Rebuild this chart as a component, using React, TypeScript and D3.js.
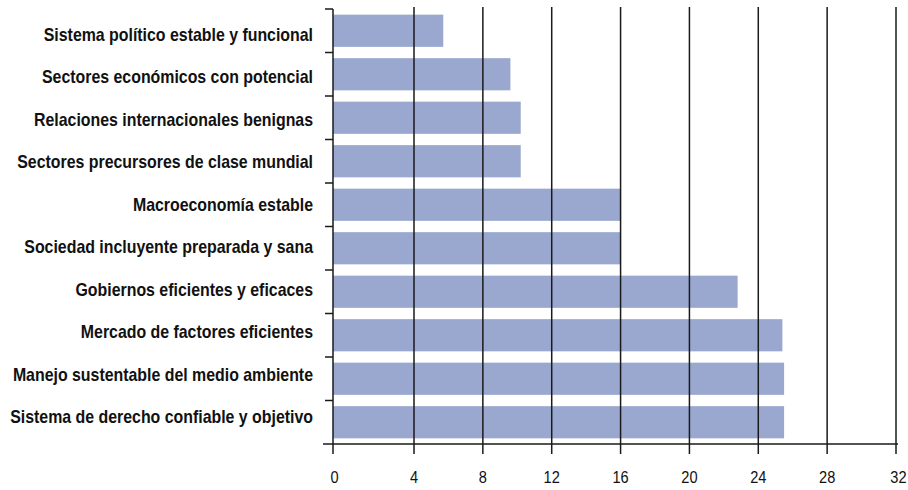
import React, { useLayoutEffect, useRef, useState } from "react";
import * as d3 from "d3";

const categories = [
  "Sistema político estable y funcional",
  "Sectores económicos con potencial",
  "Relaciones internacionales benignas",
  "Sectores precursores de clase mundial",
  "Macroeconomía estable",
  "Sociedad incluyente preparada y sana",
  "Gobiernos eficientes y eficaces",
  "Mercado de factores eficientes",
  "Manejo sustentable del medio ambiente",
  "Sistema de derecho confiable y objetivo",
];
const values = [5.7, 9.6, 10.2, 10.2, 16.0, 16.0, 22.8, 25.4, 25.5, 25.5];
const xTicks = [0, 4, 8, 12, 16, 20, 24, 28, 32];

const W = 908;
const H = 490;
const FONT = "'Liberation Sans', Arial, sans-serif";
const LONGEST_LABEL_PX = 303;

export default function App() {
  const measureRef = useRef<SVGTextElement>(null);
  const [sx, setSx] = useState<number | null>(null);
  useLayoutEffect(() => {
    if (measureRef.current) {
      const w = measureRef.current.getComputedTextLength();
      setSx(w > 0 ? LONGEST_LABEL_PX / w : 0.82);
    }
  }, []);

  // the original axis has a slightly wider first interval (0–4)
  const x = d3.scaleLinear().domain([0, 4, 32]).range([333, 414, 896]);
  const y = d3.scaleBand<string>().domain(categories).range([9, 444]).paddingInner(0.26).paddingOuter(0.13);
  const labelY = d3.scalePoint<string>().domain(categories).range([41, 423]);
  const boundaries = d3.range(categories.length + 1).map((i) => 9 + (i * (444 - 9)) / categories.length);
  const longest = categories.reduce((a, b) => (b.length > a.length ? b : a), "");
  return (
    <svg width={W} height={H} style={{ position: "absolute", left: 0, top: 0, background: "#fff" }} fontFamily={FONT}>
      {sx === null && (
        <text ref={measureRef} x={10} y={100} fontSize={18} fontWeight="bold" opacity={0}>
          {longest}
        </text>
      )}
      {values.map((v, i) => (
        <rect key={i} x={x(0)} y={y(categories[i])} width={x(v) - x(0)} height={y.bandwidth()} fill="#9aa8d0" />
      ))}
      {xTicks.slice(1).map((t) => (
        <line key={t} x1={x(t)} x2={x(t)} y1={7} y2={454} stroke="#1a1a1a" strokeWidth={1.5} />
      ))}
      <line x1={x(0)} x2={x(0)} y1={9} y2={454} stroke="#1a1a1a" strokeWidth={1.5} />
      <line x1={323} x2={898} y1={444} y2={444} stroke="#1a1a1a" strokeWidth={1.5} />
      {boundaries.slice(0, -1).map((b, i) => (
        <line key={i} x1={325} x2={x(0)} y1={b} y2={b} stroke="#1a1a1a" strokeWidth={1.5} />
      ))}
      {xTicks.map((t) => (
        <g key={t} transform={`translate(${x(t) + (t === 0 ? 1.5 : t === 32 ? 2.5 : 0)},483) scale(0.86,1)`}>
          <text x={0} y={0} textAnchor="middle" fontSize={17} fill="#111">
            {t}
          </text>
        </g>
      ))}
      {sx !== null &&
        categories.map((c) => (
          <g key={c} transform={`translate(313,${labelY(c)}) scale(${sx},1)`}>
            <text x={0} y={0} textAnchor="end" fontSize={18} fontWeight="bold" fill="#111">
              {c}
            </text>
          </g>
        ))}
    </svg>
  );
}
